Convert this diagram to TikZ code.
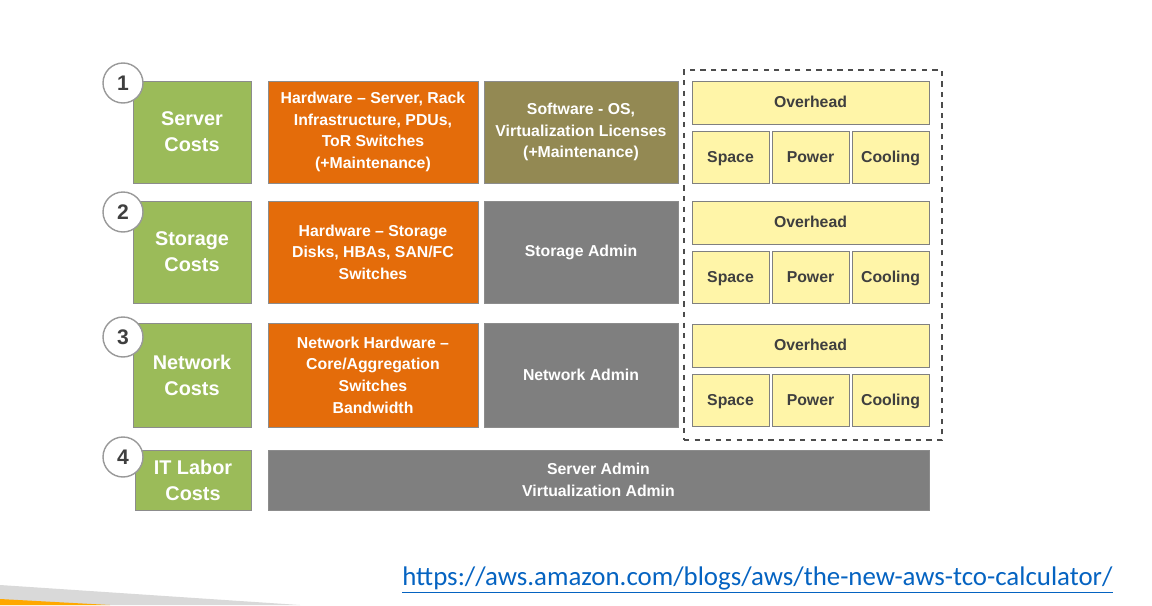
\documentclass[tikz,border=0pt]{standalone}
\usepackage{fontspec}
\setmainfont{Liberation Sans}
\newfontfamily\urlfont{Carlito}
\usepackage{xcolor}
\usetikzlibrary{fit,positioning}

\definecolor{costgreen}{HTML}{9BBB59}
\definecolor{hworange}{HTML}{E46C0A}
\definecolor{swolive}{HTML}{938953}
\definecolor{admingray}{HTML}{7F7F7F}
\definecolor{ovyellow}{HTML}{FFF5A8}
\definecolor{darktext}{HTML}{3F3F3F}
\definecolor{linkblue}{HTML}{0563C1}
\definecolor{slidegray}{HTML}{D9D9D9}
\definecolor{slideorange}{HTML}{FFA800}

\tikzset{
  cell/.style={inner sep=0pt, outer sep=0pt, draw=black!45, line width=0.5pt, align=center, font=\bfseries\fontsize{9}{12.3}\selectfont},
  costbox/.style={cell, fill=costgreen, text=white, font=\bfseries\fontsize{11.3}{14.7}\selectfont},
  hwbox/.style={cell, fill=hworange, text=white},
  swbox/.style={cell, fill=swolive, text=white},
  adminbox/.style={cell, fill=admingray, text=white},
  ovbox/.style={cell, fill=ovyellow, text=darktext, draw=black!50, text height=1.55ex, text depth=0.45ex},
  numcirc/.style={circle, draw=black!40, line width=0.8pt, fill=white, minimum size=0.8cm, inner sep=0pt, text=darktext, font=\bfseries\fontsize{12}{12}\selectfont}
}

% box from (x1,y1) to (x2,y2), pixel units
\newcommand{\cellnode}[7]{%
  \pgfmathsetmacro{\cw}{((#5)-(#3))*0.02}%
  \pgfmathsetmacro{\ch}{((#6)-(#4))*0.02}%
  \node[#1, minimum width=\cw cm, minimum height=\ch cm] (#2) at ({((#3)+(#5))/2},{((#4)+(#6))/2}) {#7};%
}

\begin{document}
\begin{tikzpicture}[x=0.02cm, y=-0.02cm]

\useasboundingbox (0,0) rectangle (1152,605);

% Slide decoration bottom left
\fill[slidegray] (0,585) -- (300,605) -- (0,605) -- cycle;
\fill[slideorange] (0,599) -- (110,605) -- (0,605) -- cycle;

% Cost categories
\cellnode{costbox}{server}{133}{81}{251}{183}{Server\\Costs}
\cellnode{costbox}{storage}{133}{201}{251}{303}{Storage\\Costs}
\cellnode{costbox}{network}{133}{323}{251}{427}{Network\\Costs}
\cellnode{costbox}{labor}{135}{450}{251}{510}{IT Labor\\Costs}

% Numbers
\node[numcirc] (n1) at (123,83) {1};
\node[numcirc] (n2) at (123,212) {2};
\node[numcirc] (n3) at (123,337) {3};
\node[numcirc] (n4) at (123,457) {4};

% Hardware
\cellnode{hwbox}{hwserver}{268}{81}{478}{183}{Hardware -- Server, Rack\\Infrastructure, PDUs,\\ToR Switches\\(+Maintenance)}
\cellnode{hwbox}{hwstorage}{268}{201}{478}{303}{Hardware -- Storage\\Disks, HBAs, SAN/FC\\Switches}
\cellnode{hwbox}{hwnetwork}{268}{323}{478}{427}{Network Hardware --\\Core/Aggregation\\Switches\\Bandwidth}

% Software and admin
\cellnode{swbox}{software}{484}{81}{678}{183}{Software - OS,\\Virtualization Licenses\\(+Maintenance)}
\cellnode{adminbox}{stadmin}{484}{201}{678}{303}{Storage Admin}
\cellnode{adminbox}{netadmin}{484}{323}{678}{427}{Network Admin}
\cellnode{adminbox}{srvadmin}{268}{450}{929}{510}{Server Admin\\Virtualization Admin}

% Overhead blocks
\foreach \r/\dy in {1/0, 2/120, 3/243} {
  \cellnode{ovbox}{ov\r}{692}{81+\dy}{929}{124+\dy}{Overhead}
  \cellnode{ovbox}{sp\r}{692}{131+\dy}{769}{183+\dy}{Space}
  \cellnode{ovbox}{pw\r}{772}{131+\dy}{849}{183+\dy}{Power}
  \cellnode{ovbox}{co\r}{852}{131+\dy}{929}{183+\dy}{Cooling}
}

% Dashed frame
\node[draw=black!70, dashed, line width=1pt, inner sep=0pt, fit={(684,70) (942,440)}] (frame) {};

% Link
\node[anchor=base west, inner sep=0pt, text=linkblue, font=\urlfont\fontsize{15.3}{18}\selectfont] (link) at (402,585) {\underline{https://aws.amazon.com/blogs/aws/the-new-aws-tco-calculator/}};

\end{tikzpicture}
\end{document}
